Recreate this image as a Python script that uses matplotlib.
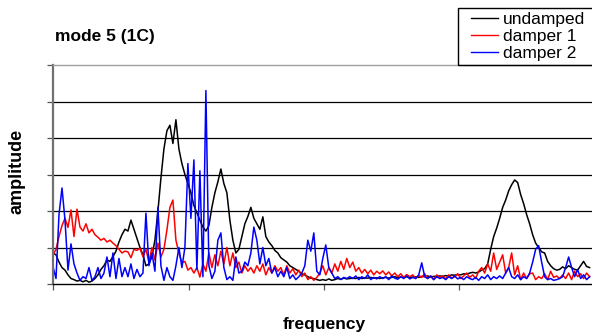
import numpy as np
import matplotlib
matplotlib.use("Agg")
import matplotlib.pyplot as plt
from matplotlib.patches import Rectangle

plt.rcParams['font.family'] = ['Liberation Sans', 'DejaVu Sans']

# frequency bins (one every 3 bins), amplitudes
freq = np.arange(180) * 3

undamped = [0.85, 0.8, 0.6, 0.45, 0.38, 0.25, 0.15, 0.12, 0.08, 0.1,
            0.06, 0.1, 0.05, 0.08, 0.15, 0.25, 0.4, 0.5, 0.66, 0.62,
            0.75, 0.9, 1.15, 1.35, 1.5, 1.45, 1.75, 1.5, 1.25, 1.0,
            0.8, 0.5, 0.55, 0.75, 1.2, 2.0, 2.9, 3.7, 4.2, 4.35,
            3.85, 4.5, 3.7, 3.3, 3.0, 2.75, 2.5, 2.15, 1.95, 1.75,
            1.56, 1.45, 1.6, 2.1, 2.5, 2.8, 3.15, 2.75, 2.5, 1.75,
            1.2, 0.85, 0.95, 1.3, 1.65, 1.85, 2.1, 1.8, 1.65, 1.5,
            1.84, 1.3, 1.15, 1.05, 0.92, 0.85, 0.72, 0.66, 0.6, 0.5,
            0.45, 0.4, 0.35, 0.28, 0.25, 0.2, 0.16, 0.15, 0.12, 0.1,
            0.12, 0.1, 0.14, 0.1, 0.12, 0.15, 0.13, 0.16, 0.14, 0.15,
            0.16, 0.15, 0.18, 0.15, 0.17, 0.16, 0.18, 0.16, 0.17, 0.15,
            0.17, 0.18, 0.16, 0.18, 0.2, 0.17, 0.19, 0.18, 0.2, 0.18,
            0.19, 0.2, 0.18, 0.21, 0.2, 0.22, 0.19, 0.21, 0.2, 0.22,
            0.21, 0.23, 0.22, 0.25, 0.24, 0.26, 0.25, 0.28, 0.27, 0.3,
            0.32, 0.3, 0.33, 0.38, 0.42, 0.55, 0.95, 1.3, 1.53, 1.8,
            2.1, 2.3, 2.55, 2.72, 2.85, 2.78, 2.45, 2.2, 1.9, 1.65,
            1.35, 1.12, 1.0, 0.88, 0.85, 0.62, 0.5, 0.42, 0.38, 0.4,
            0.47, 0.42, 0.5, 0.45, 0.4, 0.38, 0.5, 0.62, 0.48, 0.45]

damper1 = [0.8, 0.95, 1.3, 1.6, 1.8, 1.55, 2.03, 1.3, 2.05, 1.56,
           1.45, 1.65, 1.4, 1.5, 1.35, 1.28, 1.2, 1.25, 1.15, 1.2,
           1.12, 1.05, 0.95, 0.85, 0.9, 0.88, 0.72, 0.95, 0.92, 0.98,
           0.75, 0.95, 0.6, 1.0, 0.66, 1.12, 0.74, 0.95, 1.48, 2.1,
           2.3, 1.2, 0.85, 0.58, 0.62, 0.38, 0.45, 0.3, 0.45, 0.19,
           0.55, 0.35, 0.85, 0.45, 0.8, 0.5, 0.9, 0.55, 1.0, 0.5,
           0.85, 0.45, 0.6, 0.3, 0.5, 0.35, 0.45, 0.3, 0.5, 0.35,
           0.55, 0.25, 0.45, 0.3, 0.5, 0.35, 0.45, 0.25, 0.5, 0.3,
           0.42, 0.25, 0.38, 0.2, 0.3, 0.12, 0.2, 0.1, 0.18, 0.3,
           0.5, 0.25, 0.45, 0.3, 0.55, 0.35, 0.62, 0.4, 0.7, 0.45,
           0.6, 0.35, 0.45, 0.3, 0.4, 0.28, 0.38, 0.25, 0.35, 0.28,
           0.36, 0.25, 0.33, 0.22, 0.3, 0.2, 0.28, 0.18, 0.26, 0.2,
           0.25, 0.15, 0.24, 0.18, 0.28, 0.15, 0.22, 0.12, 0.25, 0.18,
           0.22, 0.14, 0.25, 0.16, 0.2, 0.28, 0.15, 0.22, 0.3, 0.18,
           0.25, 0.15, 0.35, 0.45, 0.3, 0.55, 0.35, 0.85, 0.4, 0.6,
           0.8, 0.3, 0.45, 0.85, 0.25, 0.5, 0.12, 0.3, 0.15, 0.28,
           0.3, 0.12, 0.2, 0.15, 0.28, 0.12, 0.35, 0.18, 0.22, 0.15,
           0.25, 0.15, 0.3, 0.12, 0.35, 0.2, 0.28, 0.15, 0.3, 0.2]

damper2 = [0.47, 0.15, 1.9, 2.63, 1.75, 0.38, 1.1, 0.55, 0.3, 0.1,
           0.2, 0.15, 0.45, 0.1, 0.2, 0.45, 0.15, 0.3, 0.74, 0.2,
           0.85, 0.15, 0.7, 0.2, 0.45, 0.2, 0.55, 0.15, 0.4, 0.2,
           0.3, 1.94, 0.5, 0.85, 0.35, 2.1, 0.5, 0.1, 0.45, 0.2,
           0.1, 0.5, 1.0, 0.45, 1.0, 3.3, 1.8, 3.4, 0.4, 3.1,
           0.2, 5.3, 0.5, 0.15, 0.35, 1.2, 1.4, 0.45, 0.12, 0.2,
           0.1, 0.74, 0.3, 0.35, 0.6, 0.5, 0.85, 1.56, 1.2, 0.55,
           1.0, 0.5, 0.7, 0.3, 0.45, 0.2, 0.35, 0.2, 0.45, 0.15,
           0.25, 0.12, 0.2, 0.3, 0.5, 1.2, 0.9, 1.4, 0.35, 0.25,
           0.7, 1.07, 0.45, 0.3, 0.15, 0.2, 0.12, 0.18, 0.15, 0.2,
           0.15, 0.22, 0.12, 0.2, 0.15, 0.25, 0.12, 0.18, 0.14, 0.2,
           0.15, 0.2, 0.12, 0.22, 0.16, 0.13, 0.2, 0.15, 0.22, 0.14,
           0.18, 0.15, 0.25, 0.58, 0.2, 0.15, 0.22, 0.12, 0.2, 0.15,
           0.18, 0.12, 0.2, 0.15, 0.22, 0.14, 0.18, 0.12, 0.2, 0.15,
           0.12, 0.18, 0.1, 0.2, 0.15, 0.25, 0.12, 0.2, 0.15, 0.22,
           0.15, 0.3, 0.45, 0.2, 0.15, 0.25, 0.12, 0.2, 0.15, 0.3,
           0.6, 0.95, 1.05, 0.6, 0.2, 0.12, 0.15, 0.1, 0.12, 0.15,
           0.2, 0.45, 0.74, 0.45, 0.2, 0.4, 0.15, 0.25, 0.12, 0.2]

series = [('undamped', undamped, 'black'),
          ('damper 1', damper1, 'red'),
          ('damper 2', damper2, 'blue')]

fig = plt.figure(figsize=(5.92, 3.35), dpi=100)
ax = fig.add_axes([53 / 592, 51 / 335, 542 / 592, 219 / 335])

for name, vals, col in series:
    ax.plot(freq, vals, color=col, lw=1.1, label=name)

ax.set_xlim(0, 542.4)
ax.set_ylim(0, 6)
ax.set_xticks(np.arange(5) * 135.6)
ax.set_yticks(np.arange(7))
ax.set_xticklabels([])
ax.set_yticklabels([])
for y in range(1, 6):
    ax.axhline(y, color='black', lw=0.9, zorder=0)

ax.spines['right'].set_visible(False)
ax.spines['left'].set_color('#707070')
ax.spines['left'].set_linewidth(1.6)
ax.spines['top'].set_color('#a0a0a0')
ax.spines['top'].set_linewidth(1.0)
ax.spines['bottom'].set_color('black')
ax.spines['bottom'].set_linewidth(1.0)
ax.tick_params(axis='y', direction='out', length=4, width=0.9, color='#555555')
ax.tick_params(axis='x', direction='out', length=4, width=0.9, color='#555555')

fig.text(55 / 592, 1 - 36 / 335, 'mode 5 (1C)', fontsize=12.5, fontweight='bold',
         ha='left', va='center')
fig.text(17 / 592, 1 - 171 / 335, 'amplitude', fontsize=13, fontweight='bold',
         rotation=90, ha='center', va='center')
fig.text(324 / 592, 1 - 324 / 335, 'frequency', fontsize=12.5, fontweight='bold',
         ha='center', va='center')

# legend box runs off the right edge of the picture
fig.patches.append(Rectangle((457.7 / 592, 1 - 65 / 335), 150 / 592, 57 / 335,
                             transform=fig.transFigure, fill=False,
                             edgecolor='black', lw=1.0))
leg = fig.legend(loc='upper left', bbox_to_anchor=(471 / 592, 1 - 12 / 335),
                 fontsize=12.5, frameon=False, borderpad=0.0,
                 labelspacing=0.1, handlelength=1.55, handletextpad=0.3,
                 borderaxespad=0.0)
for line in leg.get_lines():
    line.set_linewidth(1.0)

fig.savefig('out.png', dpi=100)
